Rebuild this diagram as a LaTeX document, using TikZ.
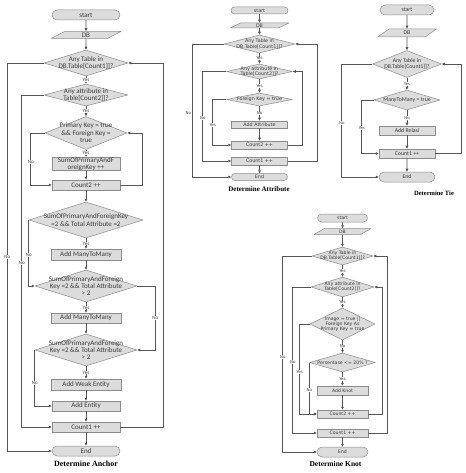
\documentclass[tikz,border=0pt]{standalone}
\usepackage{fontspec}
\setmainfont{Liberation Serif}
\newfontfamily\calib{Carlito}
\newfontfamily\dejav{DejaVu Sans}
\usetikzlibrary{arrows.meta,shapes.geometric,shapes.misc}

\definecolor{boxfill}{HTML}{DCDCDC}
\definecolor{boxline}{HTML}{8C8C8C}
\definecolor{flowline}{HTML}{555555}
\definecolor{inktext}{HTML}{3A3A3A}

\begin{document}
\begin{tikzpicture}[x=1pt,y=-1pt,>={Triangle[length=3pt,width=2.6pt]},line join=round,
  sz/.style 2 args={minimum width=#1pt,minimum height=#2pt},
  base/.style={draw=boxline,fill=boxfill,line width=0.5pt,inner sep=0pt,text=inktext,align=center},
  term/.style={base,rounded rectangle},
  io/.style={base,trapezium,trapezium left angle=60,trapezium right angle=120,trapezium stretches=true},
  proc/.style={base,rectangle},
  dec/.style={base,diamond,label={[text=inktext,align=center]center:{#1}}},
  flow/.style={draw=flowline,line width=0.7pt,->},
  lbl/.style={text=inktext,fill=white,inner sep=0.3pt},
  captxt/.style={text=black}]
  \useasboundingbox (0,0) rectangle (465,473);
  \fill[white] (0,0) rectangle (465,473);

  \begin{scope}[font=\calib\fontsize{7}{7.4}\selectfont,lbl/.append style={font=\calib\fontsize{5}{5}\selectfont}]
  \node[term,sz={68}{10}] (s1) at (86,15) {start};
  \node[io,sz={70}{7}] (db1) at (86,35) {DB};
  \node[dec={Any Table in\\DB.Table[Count1]]?},sz={84}{26}] (a1) at (86,63) {};
  \node[dec={Any attribute in\\Table[Count2]]?},sz={84}{22}] (a2) at (86,95) {};
  \node[dec={Primary Key = true\\\&\& Foreign Key =\\true},sz={82}{33}] (a3) at (86,133) {};
  \node[proc,sz={68}{12}] (p1) at (86,164) {SumOfPrimaryAndF\\oreignKey ++};
  \node[proc,sz={68}{10}] (c2) at (86,185) {Count2 ++};
  \node[dec={SumOfPrimaryAndForeignKey\\=2 \&\& Total Attribute =2},sz={114}{36}] (a4) at (86,220) {};
  \node[proc,sz={70}{11}] (p2) at (86,254.5) {Add ManyToMany};
  \node[dec={SumOfPrimaryAndForeign\\Key =2 \&\& Total Attribute\\> 2},sz={102}{32}] (a5) at (86,286) {};
  \node[proc,sz={70}{10}] (p3) at (86,318) {Add ManyToMany};
  \node[dec={SumOfPrimaryAndForeign\\Key =2 \&\& Total Attribute\\> 2},sz={102}{32}] (a6) at (86,350) {};
  \node[proc,sz={70}{11}] (p4) at (86,384.5) {Add Weak Entity};
  \node[proc,sz={68}{10}] (p5) at (86,406) {Add Entity};
  \node[proc,sz={68}{10}] (c1) at (86,427) {Count1 ++};
  \node[term,sz={68}{10}] (e1) at (86,451) {End};
  \node[captxt,font=\bfseries\fontsize{8}{9}\selectfont] (cap1) at (86,464) {Determine Anchor};
  \draw[flow] (s1) -- (db1);
  \draw[flow] (db1) -- (a1);
  \draw[flow] (a1) -- node[lbl]{Yes} (a2);
  \draw[flow] (a2) -- node[lbl]{Yes} (a3);
  \draw[flow] (a3) -- node[lbl]{Yes} (p1);
  \draw[flow] (p1) -- (c2);
  \draw[flow] (c2) -- (a4);
  \draw[flow] (a4) -- node[lbl]{Yes} (p2);
  \draw[flow] (p2) -- (a5);
  \draw[flow] (a5) -- node[lbl]{Yes} (p3);
  \draw[flow] (p3) -- (a6);
  \draw[flow] (a6) -- node[lbl]{Yes} (p4);
  \draw[flow] (p4) -- (p5);
  \draw[flow] (p5) -- (c1);
  \draw[flow] (c1) -- (e1);
  \draw[flow] (a1.west) -- ++(-36.5,0) |- node[lbl,pos=.25]{No} (e1.west);
  \draw[flow] (a2.west) -- ++(-22,0) |- node[lbl,pos=.253]{No} (c1.west);
  \draw[flow] (a3.west) -- ++(-14,0) |- node[lbl,pos=.28]{No} (c2.west);
  \draw[flow] (a4.west) |- node[lbl,pos=.265]{No} (a5.west);
  \draw[flow] (a5.east) -- ++(18,0) |- node[lbl,pos=.25]{No} (a6.east);
  \draw[flow] (a6.west) |- node[lbl,pos=.295]{No} (p5.west);
  \draw[flow] (c2.east) -- ++(22,0) |- (a3.east);
  \draw[flow] (c1.east) -- ++(43,0) |- (a1.east);
  \end{scope}

  \begin{scope}[font=\dejav\fontsize{4.8}{5.6}\selectfont,lbl/.append style={font=\dejav\fontsize{4}{4}\selectfont}]
  \node[term,sz={57}{7}] (s2) at (259.5,10.5) {start};
  \node[io,sz={59}{5}] (db2) at (259.5,25.5) {DB};
  \node[dec={Any Table in\\DB.Table[Count1]]?},sz={71}{18}] (b1) at (259.5,44) {};
  \node[dec={Any attribute in\\Table[Count2]]?},sz={66}{15}] (b2) at (259.5,71.5) {};
  \node[dec={Foreign Key = true},sz={66}{13}] (b3) at (259.5,99.5) {};
  \node[proc,sz={56}{7}] (q1) at (259.5,124.5) {Add Attribute};
  \node[proc,sz={56}{8}] (d2) at (259.5,145) {Count2 ++};
  \node[proc,sz={56}{8}] (d1) at (259.5,161) {Count1 ++};
  \node[term,sz={56}{7}] (e2) at (259.5,177) {End};
  \node[captxt,font=\bfseries\fontsize{7}{8}\selectfont] (cap2) at (259,189) {Determine Attribute};
  \draw[flow] (s2) -- (db2);
  \draw[flow] (db2) -- (b1);
  \draw[flow] (b1) -- node[lbl]{Yes} (b2);
  \draw[flow] (b2) -- node[lbl]{Yes} (b3);
  \draw[flow] (b3) -- node[lbl]{No} (q1);
  \draw[flow] (q1) -- (d2);
  \draw[flow] (d1) -- (e2);
  \draw[flow] (b1.west) -- ++(-31,0) |- node[lbl,pos=.26,left=1pt,fill=none]{No} (e2.west);
  \draw[flow] (b2.west) -- ++(-23.5,0) |- node[lbl,pos=.26]{No} (d1.west);
  \draw[flow] (b3.west) -- ++(-13.5,0) |- node[lbl,pos=.28]{Yes} (d2.west);
  \draw[flow] (d2.east) -- ++(14.5,0) |- (b2.east);
  \draw[flow] (d1.east) -- ++(29.5,0) |- (b1.east);
  \end{scope}

  \begin{scope}[font=\calib\fontsize{5.8}{6.7}\selectfont,lbl/.append style={font=\calib\fontsize{4.5}{4.5}\selectfont}]
  \node[term,sz={54}{10}] (s3) at (407,10) {start};
  \node[io,sz={59}{8}] (db3) at (407,33) {DB};
  \node[dec={Any Table in\\DB.Table[Count1]]?},sz={69}{27}] (t1) at (407,64) {};
  \node[dec={ManyToMany = true},sz={66}{20}] (t2) at (407,100) {};
  \node[proc,sz={56}{9}] (r1) at (407,130.5) {Add Relasi};
  \node[proc,sz={56}{9}] (f1) at (407,153.5) {Count1 ++};
  \node[term,sz={56}{10}] (e3) at (407,177) {End};
  \node[captxt,font=\bfseries\fontsize{6.5}{7.5}\selectfont] (cap3) at (434,193) {Determine Tie};
  \draw[flow] (s3) -- (db3);
  \draw[flow] (db3) -- (t1);
  \draw[flow] (t1) -- node[lbl]{Yes} (t2);
  \draw[flow] (t2) -- node[lbl]{No} (r1);
  \draw[flow] (r1) -- (f1);
  \draw[flow] (f1) -- (e3);
  \draw[flow] (t1.west) -- ++(-30.5,0) |- node[lbl,pos=.26]{No} (e3.west);
  \draw[flow] (t2.west) -- ++(-12,0) |- node[lbl,pos=.26]{Yes} (f1.west);
  \draw[flow] (f1.east) -- ++(26,0) |- (t1.east);
  \end{scope}

  \begin{scope}[font=\dejav\fontsize{4.6}{5}\selectfont,lbl/.append style={font=\dejav\fontsize{4}{4}\selectfont}]
  \node[term,sz={50}{8}] (s4) at (342.5,218) {start};
  \node[io,sz={57}{6}] (db4) at (342.5,231.5) {DB};
  \node[dec={Any Table in\\DB.Table[Count1]]?},sz={61}{18}] (k1) at (342.5,256) {};
  \node[dec={Any attribute in\\Table[Count2]]?},sz={63}{20}] (k2) at (342.5,287) {};
  \node[dec={Image = true ||\\Foreign Key As\\Primary Key = true},sz={65}{32}] (k3) at (342.5,324) {};
  \node[dec={Persentase <= 20\% ?},sz={66}{19}] (k4) at (342.5,362.5) {};
  \node[proc,sz={51}{9}] (n1) at (342.5,390.5) {Add Knot};
  \node[proc,sz={51}{8}] (g2) at (342.5,414) {Count2 ++};
  \node[proc,sz={51}{8}] (g1) at (342.5,433) {Count1 ++};
  \node[term,sz={51}{10}] (e4) at (342.5,452) {End};
  \node[captxt,font=\bfseries\fontsize{7.5}{8.5}\selectfont] (cap4) at (335.5,464) {Determine Knot};
  \draw[flow] (s4) -- (db4);
  \draw[flow] (db4) -- (k1);
  \draw[flow] (k1) -- node[lbl]{Yes} (k2);
  \draw[flow] (k2) -- node[lbl]{Yes} (k3);
  \draw[flow] (k3) -- node[lbl]{No} (k4);
  \draw[flow] (k4) -- node[lbl]{Yes} (n1);
  \draw[flow] (n1) -- (g2);
  \draw[flow] (g1) -- (e4);
  \draw[flow] (k1.west) -- ++(-29,0) |- node[lbl,pos=.258]{No} (e4.west);
  \draw[flow] (k2.west) -- ++(-18,0) |- node[lbl,pos=.257]{No} (g1.west);
  \draw[flow] (k3.west) -- ++(-10,0) |- node[lbl,pos=.267]{Yes} (g2.west);
  \draw[flow] (k4.west) |- node[lbl,pos=.267]{No} (g2.west);
  \draw[flow] (g2.east) -- ++(14,0) |- (k2.east);
  \draw[flow] (g1.east) -- ++(19,0) |- (k1.east);
  \end{scope}
\end{tikzpicture}
\end{document}
